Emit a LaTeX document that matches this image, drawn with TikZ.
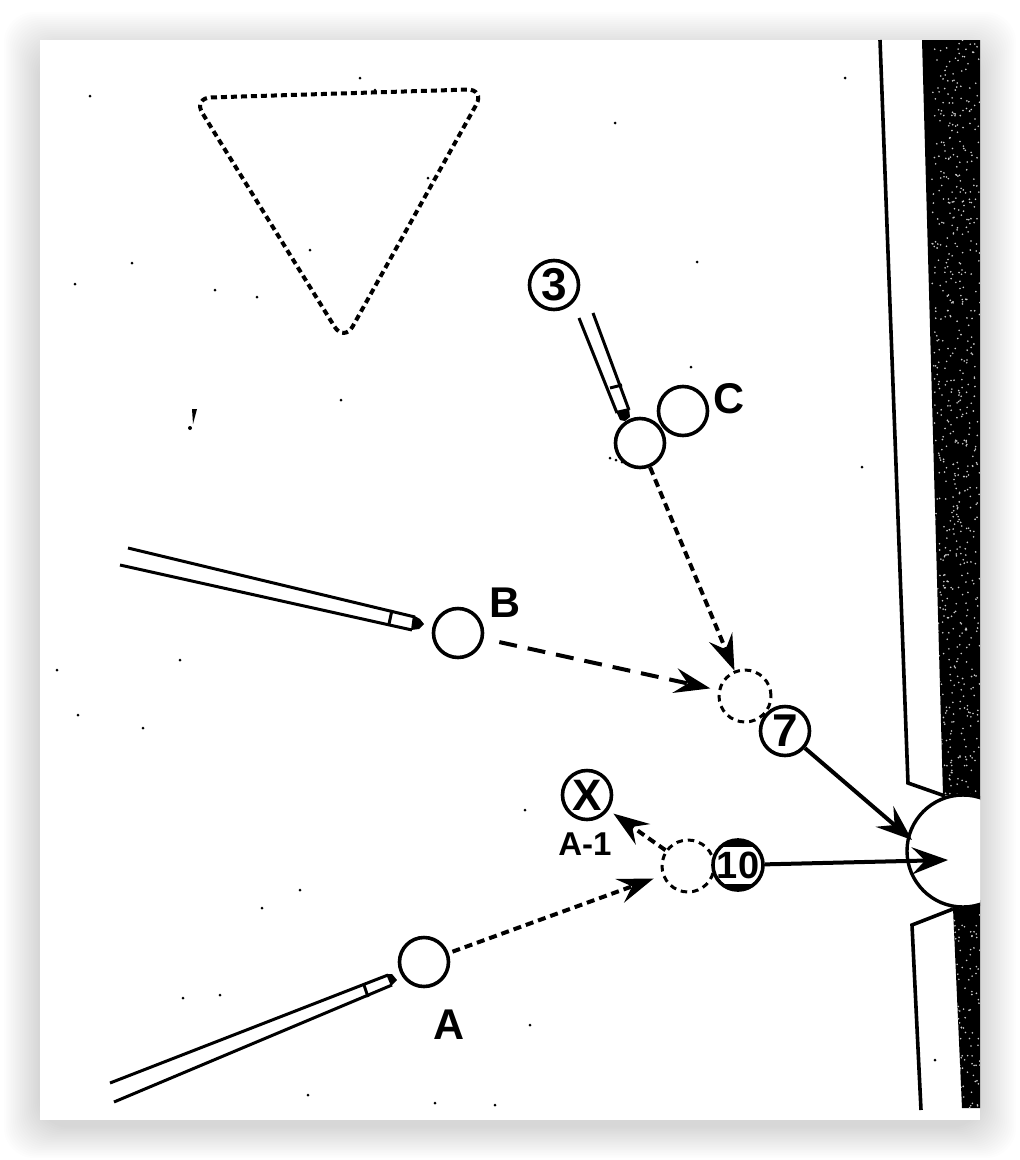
\documentclass[tikz,border=0pt]{standalone}
\usepackage{fontspec}
\setmainfont{Liberation Sans}
\usepackage{tikz}
\usetikzlibrary{arrows.meta}
\tikzset{
  ball/.style = {circle,draw,line width=3.6pt,fill=white,minimum size=49pt,inner sep=0pt,font=\bfseries\fontsize{46}{46}\selectfont},
  ghost/.style = {circle,draw,line width=3pt,dash pattern=on 6.5pt off 5pt,minimum size=52pt,inner sep=0pt},
  lab/.style = {inner sep=0pt,font=\bfseries\fontsize{43}{43}\selectfont},
  cue/.style = {line width=3pt},
  shotline/.style = {line width=4pt,dash pattern=on 8pt off 5pt,-{Stealth[length=36pt,width=25pt,inset=13pt]}},
  longline/.style = {shotline,dash pattern=on 18pt off 11pt},
  potline/.style = {line width=4pt,-{Stealth[length=36pt,width=27pt,inset=13pt]}}
}
\begin{document}
\begin{tikzpicture}[x=1pt,y=-1pt]
  \useasboundingbox (0,0) rectangle (1020,1160);
  %%% page and shadow
  \fill[white] (0,0) rectangle (1020,1160);
  \foreach \ii in {1,...,20} {
    \fill[black,opacity=.008,rounded corners=30pt] (40-1.8*\ii,40+12-2*\ii) rectangle (980+1.8*\ii,1120+6+1.6*\ii);
  }
  \fill[white] (40,40) rectangle (980,1120);
  %%% specks
  \foreach \xx/\yy in {90/96,132/263,75/284,215/290,257/297,341/400,697/262,615/123,862/467,845/78,691/367,143/728,78/715,57/670,180/660,300/890,262/908,183/998,525/810,530/1025,495/1105,935/1060,308/1095,435/1103,220/995,360/78,375/90,310/250,428/178,616/460,622/462,610/458,628/452} {
    \fill (\xx,\yy) circle (1.5pt);
  }
  \fill (192,409) -- (197,409) -- (193,424) -- cycle;
  \fill (190,428) circle (2pt);
  %%% dark rail
  \fill (922,40) -- (980,40) -- (980,800) -- (943,795) -- cycle;
  \fill (953,908) -- (980,900) -- (980,1108) -- (962,1108) -- cycle;
  \begin{scope}
    \clip (922,40) -- (980,40) -- (980,800) -- (943,795) -- cycle (953,908) -- (980,900) -- (980,1108) -- (962,1108) -- cycle;
    \pgfmathsetseed{7}
    \foreach \ii in {1,...,1000} {
      \pgfmathsetmacro{\xx}{932+48*rnd}
      \pgfmathsetmacro{\yy}{40+1068*rnd}
      \fill[white!80!black] (\xx,\yy) circle (.9pt);
    }
  \end{scope}
  %%% rail lines
  \draw[line width=3.6pt] (880,40) -- (908,783) -- (945,796);
  \draw[line width=3.6pt] (953,909) -- (912,925) -- (921,1110);
  %%% pocket
  \begin{scope}
    \clip (0,0) rectangle (980,1160);
    \node[circle,draw,line width=3.4pt,fill=white,minimum size=112pt] (pocket) at (963,851) {};
  \end{scope}
  \coordinate (pocketEdge) at (912,840);
  \coordinate (pocketMid) at (948,860);
  %%% triangle
  \draw[line width=4pt,dash pattern=on 6pt off 4pt,rounded corners=18pt] (193,98) -- (485,89) -- (344,342) -- cycle;
  %%% cues
  \draw[cue] (128,548) -- (415,617) (120,565) -- (412,630);
  \draw[cue] (392,610) -- (389,624);
  \fill (413,615) -- (420,619) -- (424,624) -- (419,629) -- (411,630) -- cycle;
  \draw[cue] (110,1083) -- (388,975) (114,1102) -- (392,985);
  \draw[cue] (364,985) -- (368,997);
  \fill (386,974) -- (392,974) -- (397,980) -- (391,986) -- cycle;
  \draw[cue] (579,318) -- (617,413) (593,313) -- (629,410);
  \draw[cue] (610,388) -- (622,385);
  \fill (616,411) -- (629,408) -- (630,417) -- (625,421) -- (620,420) -- cycle;
  %%% ghost balls
  \node[ghost] (ghostTop) at (745,696) {};
  \node[ghost] (ghostLow) at (688,866) {};
  %%% balls
  \node[ball] (ballC) at (640,443) {};
  \node[ball] (objC) at (683,411) {};
  \node[ball] (ballB) at (458,633) {};
  \node[ball] (ballA) at (424,962) {};
  \node[ball] (three) at (554,285) {3};
  \node[ball] (seven) at (785,731) {7};
  \node[ball,font=\bfseries\fontsize{38}{38}\selectfont,path picture={
    \fill[black] (path picture bounding box.north west) rectangle ([yshift=-7pt]path picture bounding box.north east);
    \fill[black] (path picture bounding box.south west) rectangle ([yshift=6pt]path picture bounding box.south east);
  }] (ten) at (738,865) {10};
  \node[ball,font=\bfseries\fontsize{44}{44}\selectfont] (cross) at (587,795) {X};
  %%% labels
  \node[lab] (labC) at (729,399) {C};
  \node[lab] (labB) at (505,603) {B};
  \node[lab] (labA) at (449,1025) {A};
  \node[lab,font=\bfseries\fontsize{33}{33}\selectfont] (labAone) at (585,844) {A-1};
  %%% shots
  \draw[shotline] (ballC) -- (ghostTop);
  \draw[longline,shorten >=8pt,shorten <=16pt] (ballB) -- (ghostTop);
  \draw[shotline,shorten >=9pt,shorten <=4pt] (ballA) -- (ghostLow);
  \draw[shotline,shorten >=6pt] (ghostLow) -- (cross);
  \draw[potline] (seven) -- (pocketEdge);
  \draw[potline] (ten) -- (pocketMid);
\end{tikzpicture}
\end{document}
